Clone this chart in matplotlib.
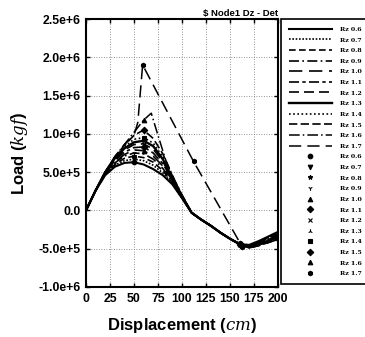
import matplotlib

matplotlib.use("Agg")

import matplotlib.pyplot as plt
import numpy as np

# displacement grid (cm) shared by Rz 0.6 .. 1.5
disp = [0, 10, 20, 30, 40, 50, 60, 70, 80, 90, 100, 110, 120, 130, 140, 150, 160, 170, 180, 190, 200]

# load in 1e5 kgf
tail = [-0.3, -1.2, -2.0, -2.9, -3.7, -4.4]
load_06 = [0, 2.6, 4.6, 5.7, 6.2, 6.3, 6.0, 5.4, 4.6, 3.4, 1.6] + tail + [-4.5, -4.0, -3.4, -2.8]
load_07 = [0, 2.6, 4.7, 5.9, 6.5, 6.7, 6.5, 5.9, 4.9, 3.5, 1.6] + tail + [-4.6, -4.1, -3.5, -2.9]
load_08 = [0, 2.6, 4.7, 6.0, 6.8, 7.1, 6.9, 6.3, 5.2, 3.6, 1.7] + tail + [-4.6, -4.1, -3.6, -3.0]
load_09 = [0, 2.6, 4.8, 6.2, 7.1, 7.5, 7.4, 6.7, 5.5, 3.7, 1.7] + tail + [-4.7, -4.2, -3.6, -3.1]
load_10 = [0, 2.6, 4.8, 6.3, 7.3, 7.9, 7.8, 7.1, 5.8, 3.9, 1.8] + tail + [-4.7, -4.3, -3.7, -3.2]
load_11 = [0, 2.6, 4.9, 6.5, 7.6, 8.2, 8.3, 7.5, 6.1, 4.0, 1.8] + tail + [-4.7, -4.3, -3.8, -3.3]
load_12 = [0, 2.6, 4.9, 6.6, 7.9, 8.6, 8.7, 8.0, 6.4, 4.1, 1.8] + tail + [-4.8, -4.4, -3.9, -3.4]
load_13 = [0, 2.6, 5.0, 6.8, 8.1, 8.9, 9.1, 8.4, 6.7, 4.2, 1.9] + tail + [-4.8, -4.4, -4.0, -3.5]
load_14 = [0, 2.6, 5.0, 6.9, 8.3, 9.3, 9.5, 8.8, 7.0, 4.3, 1.9] + tail + [-4.8, -4.5, -4.1, -3.6]
load_15 = [0, 2.6, 5.0, 7.0, 8.5, 9.8, 10.5, 9.4, 7.4, 4.5, 2.0] + tail + [-4.9, -4.6, -4.2, -3.7]

disp_16 = [0, 10, 20, 30, 40, 50, 60, 68, 75, 83, 90, 100, 110, 120, 130, 140, 150, 160, 170, 180, 190, 200]
load_16 = [0, 2.6, 5.0, 7.0, 8.6, 10.2, 11.8, 12.7, 9.8, 6.6, 4.6, 2.0] + tail + [-4.9, -4.6, -4.2, -3.8]

disp_17 = [0, 10, 20, 30, 40, 50, 54, 59, 112, 163, 170, 180, 190, 200]
load_17 = [0, 2.6, 5.0, 7.0, 8.6, 9.8, 11.5, 19.0, 6.4, -4.8, -4.7, -4.4, -4.1, -3.9]

rz_labels = ["Rz 0.6", "Rz 0.7", "Rz 0.8", "Rz 0.9", "Rz 1.0", "Rz 1.1",
             "Rz 1.2", "Rz 1.3", "Rz 1.4", "Rz 1.5", "Rz 1.6", "Rz 1.7"]

y_ticks = [-1.0e6, -5.0e5, 0.0, 5.0e5, 1.0e6, 1.5e6, 2.0e6, 2.5e6]
y_tick_labels = ["-1.0e+6", "-5.0e+5", "0.0", "5.0e+5", "1.0e+6", "1.5e+6", "2.0e+6", "2.5e+6"]
x_ticks = [0, 25, 50, 75, 100, 125, 150, 175, 200]

series = [
    (disp, load_06), (disp, load_07), (disp, load_08), (disp, load_09),
    (disp, load_10), (disp, load_11), (disp, load_12), (disp, load_13),
    (disp, load_14), (disp, load_15), (disp_16, load_16), (disp_17, load_17),
]

line_styles = [
    "-", (0, (1, 1)), (0, (4, 2)), (0, (6, 2, 1, 2)),
    (0, (8, 4, 8, 4)), (0, (6, 2, 2, 2)), (0, (6, 3)), "-",
    (0, (1, 1.5)), (0, (5, 2)), (0, (7, 2, 1, 2)), (0, (8, 4)),
]
line_widths = [1.5, 1.2, 1.2, 1.2, 1.2, 1.2, 1.2, 1.7, 1.2, 1.2, 1.1, 1.1]
markers = ["o", "v", "*", "1", "^", "D", "x", "2", "s", "D", "^", "h"]
# indices of points that carry the markers
mark_idx = [[5, 16], [5, 16], [5, 16], [5, 16], [6, 16], [6, 16],
            [6, 16], [6, 16], [6, 16], [6, 16], [6, 17], [7, 8, 9]]

plt.rcParams.update({
    "font.family": "sans-serif",
    "font.sans-serif": ["Liberation Sans", "DejaVu Sans"],
    "mathtext.fontset": "dejavuserif",
})

fig = plt.figure(figsize=(3.65, 3.37), dpi=100)
ax = fig.add_axes([0.2356, 0.1484, 0.526, 0.7952])

line_handles = []
mark_handles = []
for (xs, ys), lab, ls, lw, mk, idx in zip(series, rz_labels, line_styles, line_widths, markers, mark_idx):
    xs = np.asarray(xs, dtype=float)
    ys = np.asarray(ys, dtype=float) * 1e5
    (ln,) = ax.plot(xs, ys, color="black", linestyle=ls, linewidth=lw)
    line_handles.append(ln)
    (mh,) = ax.plot(xs[idx], ys[idx], linestyle="none", marker=mk, color="black",
                    markersize=3.3, markeredgewidth=0.8)
    mark_handles.append(mh)

ax.set_xlim(0, 200)
ax.set_ylim(-1.0e6, 2.5e6)
ax.set_xticks(x_ticks)
ax.set_xticklabels([str(v) for v in x_ticks], fontweight="bold", fontsize=8.8)
ax.set_yticks(y_ticks)
ax.set_yticklabels(y_tick_labels, fontweight="bold", fontsize=8.8)
ax.tick_params(direction="in", top=True, right=True, length=3, width=1, pad=4)
ax.grid(True, color="0.45", linestyle=(0, (1, 2)), linewidth=0.6)
for sp in ax.spines.values():
    sp.set_linewidth(1.5)

ax.set_xlabel(r"Displacement ($\mathit{cm}$)", fontweight="bold", fontsize=12, labelpad=8)
ax.set_ylabel(r"Load ($\mathit{kgf}$)", fontweight="bold", fontsize=12, labelpad=6)
ax.text(1.0, 1.005, "$ Node1 Dz - Det", transform=ax.transAxes, ha="right", va="bottom",
        fontsize=6.8, fontweight="bold")

leg = ax.legend(line_handles + mark_handles, rz_labels + rz_labels,
                loc="upper left", bbox_to_anchor=(1.016, 1.0), borderaxespad=0,
                fancybox=False, edgecolor="black", framealpha=1,
                prop={"family": "DejaVu Serif", "weight": "bold", "size": 4.5},
                handlelength=7.0, handletextpad=1.2, labelspacing=0.84,
                borderpad=1.2, numpoints=1)
leg.get_frame().set_linewidth(1.2)

fig.savefig("out.png", dpi=100)
